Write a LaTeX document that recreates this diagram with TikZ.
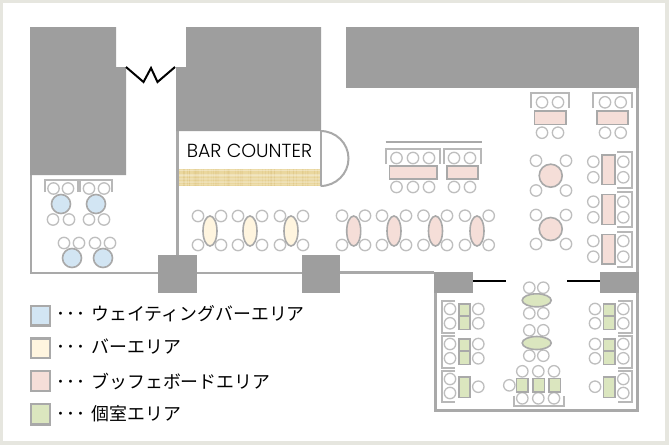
\documentclass[tikz,border=0pt]{standalone}
\usepackage{fontspec}
\newfontfamily\jpfont{Noto Sans CJK JP}
\newfontfamily\barfont{Poppins Light}
\definecolor{wallc}{HTML}{9E9E9E}
\definecolor{edgec}{HTML}{A9A9A9}
\definecolor{chairc}{HTML}{BEBEBE}
\definecolor{benchc}{HTML}{B8B8B8}
\definecolor{framec}{HTML}{E6E6DF}
\definecolor{bluec}{HTML}{D2E5F3}
\definecolor{yellowc}{HTML}{FFF5DF}
\definecolor{pinkc}{HTML}{F5DED8}
\definecolor{greenc}{HTML}{DBE6BF}
\definecolor{barc}{HTML}{EAD79E}
\definecolor{bardark}{HTML}{D9BE78}
\tikzset{
  wallblock/.style={fill=wallc,draw=none},
  wallline/.style={draw=edgec,line width=2.6pt},
  seat/.style={draw=chairc,fill=white,line width=1.3pt},
  bench/.style={draw=benchc,line width=2pt},
  tbl/.style={draw=edgec,line width=1.6pt},
  swatch/.style={draw=edgec,line width=2.6pt},
  legendtext/.style={anchor=west,inner sep=0pt,font=\jpfont\fontsize{17.9}{20}\selectfont},
}
\newcommand{\seats}[2]{\foreach \sx in {#1}{\foreach \sy in {#2}{\draw[seat] (\sx,\sy) circle[radius=5.7];}}}
\newcommand{\dotrun}{･\hspace{1.2pt}･\hspace{1.2pt}･\hspace{6pt}}
\begin{document}
\begin{tikzpicture}[x=1pt,y=-1pt]
\useasboundingbox (0,0) rectangle (669,445);
\fill[framec] (0,0) rectangle (669,445);
\fill[white] (3,3) rectangle (665,441);
% walls lines
\draw[wallline] (31,175) -- (31,273) -- (302,273);
\draw[wallline] (177.5,131) -- (177.5,255);
\draw[wallline] (340,272.5) -- (434,272.5);
\draw[wallline] (637.5,88) -- (637.5,272);
\draw[wallline] (435.5,293) -- (435.5,410.5) -- (637.5,410.5) -- (637.5,293);
% gray blocks
\fill[wallblock] (30,27) -- (116,27) -- (116,67) -- (126,67) -- (126,175) -- (30,175) -- cycle;
\fill[wallblock] (186,27) -- (321,27) -- (321,131) -- (176,131) -- (176,67) -- (186,67) -- cycle;
\fill[wallblock] (346,27) rectangle (639,88);
\fill[wallblock] (158,255) rectangle (197,293);
\fill[wallblock] (302,255) rectangle (340,293);
\fill[wallblock] (434,272) rectangle (473,293);
\fill[wallblock] (600,272) rectangle (638.5,293);
% door and entrance
\draw[black,line width=2pt] (126,67) -- (143.5,82) -- (151,68) -- (157.5,82) -- (175,67);
\draw[black,line width=2.4pt] (473,281) -- (506,281);
\draw[black,line width=2.4pt] (567,281) -- (600,281);
% bar counter
\fill[barc] (179,169) rectangle (320,186);
\pgfmathsetseed{7}
\begin{scope}
\clip (179,169) rectangle (320,186);
\foreach \i in {1,...,70}{
  \pgfmathsetmacro{\bx}{179+141*rnd}
  \pgfmathsetmacro{\bo}{0.1+0.25*rnd}
  \draw[bardark,line width=.8pt,opacity=\bo] (\bx,169) -- (\bx,186);
}
\foreach \i in {1,...,12}{
  \pgfmathsetmacro{\by}{169+17*rnd}
  \pgfmathsetmacro{\bo}{0.1+0.2*rnd}
  \draw[white,line width=.7pt,opacity=\bo] (179,\by) -- (320,\by);
}
\end{scope}
\draw[edgec,line width=2pt] (320.5,131) -- (320.5,186);
\draw[edgec,line width=2pt] (320.5,131) arc[start angle=-90,end angle=90,x radius=28,y radius=27.5];
\node[inner sep=0pt,font=\barfont\fontsize{18.9}{20}\selectfont] (barlabel) at (249.5,151) {BAR COUNTER};
% waiting area
\draw[bench] (44.5,192) -- (44.5,180) -- (78,180) -- (78,192);
\draw[bench] (80,192) -- (80,180) -- (112,180) -- (112,192);
\seats{53.5,68,89,104}{188.5}
\seats{53,69,89,104}{219.5}
\seats{64,79,95,110}{243}
\foreach \p in {(61,204),(96,204),(72,258),(103,258)}{\draw[tbl,fill=bluec] \p circle[radius=9.5];}
% bar area
\seats{198,221,238,262,280,303}{216,245}
\foreach \c in {210,250,291}{
  \draw[tbl,fill=yellowc] (\c,231) ellipse[x radius=7,y radius=15];
}
% buffet ellipses
\seats{342,365,382,406,423.5,447,465,488.7}{215.7,245}
\foreach \c in {353.7,394,435.5,477}{
  \draw[tbl,fill=pinkc] (\c,231) ellipse[x radius=7,y radius=15];
}
% buffet counter
\draw[edgec,line width=2.4pt] (385.7,141.7) -- (481.7,141.7);
\draw[bench] (386,164) -- (386,149) -- (440,149) -- (440,164);
\draw[bench] (444,164) -- (444,149) -- (481,149) -- (481,164);
\seats{396.5,413,429,454,470}{158,187}
\draw[tbl,fill=pinkc] (389.5,166) rectangle (436.7,179);
\draw[tbl,fill=pinkc] (446.7,166) rectangle (477.7,179);
% top right
\draw[bench] (531.3,108) -- (531.3,92.7) -- (569.3,92.7) -- (569.3,108);
\draw[bench] (593.3,108) -- (593.3,92.7) -- (631.7,92.7) -- (631.7,108);
\seats{542,558,605,620.7}{102.3,132.7}
\draw[tbl,fill=pinkc] (534.3,111) rectangle (565.7,124.3);
\draw[tbl,fill=pinkc] (596.7,111) rectangle (628,124.3);
% round tables
\seats{536,566}{160.7,190.5,215,244}
\draw[tbl,fill=pinkc] (550.7,175.7) circle[radius=11.5];
\draw[tbl,fill=pinkc] (550.7,229) circle[radius=11.5];
% right column
\seats{593.3,623.3}{161.7,177.3,201.7,217.3,241,256.7}
\draw[tbl,fill=pinkc] (601.7,155) rectangle (615,184.3);
\draw[tbl,fill=pinkc] (601.7,194.3) rectangle (615,224.3);
\draw[tbl,fill=pinkc] (601.7,234.3) rectangle (615,264);
\draw[bench] (617.3,151.7) -- (631.7,151.7) -- (631.7,187.7) -- (617.3,187.7);
\draw[bench] (617.3,191.7) -- (631.7,191.7) -- (631.7,227.3) -- (617.3,227.3);
\draw[bench] (617.3,231.7) -- (631.7,231.7) -- (631.7,267.3) -- (617.3,267.3);
% private rooms left
\draw[bench] (455,300.7) -- (441.7,300.7) -- (441.7,332.7) -- (455,332.7);
\draw[bench] (455,335.7) -- (441.7,335.7) -- (441.7,367.7) -- (455,367.7);
\draw[bench] (455,370.7) -- (441.7,370.7) -- (441.7,402.3) -- (455,402.3);
\seats{450}{309,323.3,344,358.3,379,393}
\seats{478.3}{309,323.3,344,358.3,386.7}
\foreach \ya/\yb/\yc in {304/316/329.3,339/351/364.3}{
  \draw[tbl,fill=greenc] (458.7,\ya) rectangle (470,\yb);
  \draw[tbl,fill=greenc] (458.7,\yb) rectangle (470,\yc);
}
\draw[tbl,fill=greenc] (458.7,376.7) rectangle (470,397.3);
% private rooms right
\draw[bench] (618.3,300.7) -- (631.7,300.7) -- (631.7,332.7) -- (618.3,332.7);
\draw[bench] (618.3,335.7) -- (631.7,335.7) -- (631.7,367.7) -- (618.3,367.7);
\draw[bench] (618.3,370.7) -- (631.7,370.7) -- (631.7,402.3) -- (618.3,402.3);
\seats{623.3}{309,323.3,344,358.3,379,393}
\seats{595}{309,323.3,344,358.3,386.7}
\foreach \ya/\yb/\yc in {304/316/329.3,339/351/364.3}{
  \draw[tbl,fill=greenc] (603.3,\ya) rectangle (615,\yb);
  \draw[tbl,fill=greenc] (603.3,\yb) rectangle (615,\yc);
}
\draw[tbl,fill=greenc] (603.3,376.7) rectangle (615,397.3);
% private rooms centre
\seats{529.3,543.3}{287.7,313.3,330.3,355.7}
\draw[tbl,fill=greenc] (536.7,300.3) ellipse[x radius=14.5,y radius=6.5];
\draw[tbl,fill=greenc] (536.7,343) ellipse[x radius=14.5,y radius=6.5];
\seats{522.3,538.3,554}{371.3,398.3}
\seats{509.3}{385.3}
\draw[tbl,fill=greenc] (516.3,378.3) rectangle (527.7,391.7);
\draw[tbl,fill=greenc] (532.7,378.3) rectangle (544.3,391.7);
\draw[tbl,fill=greenc] (549,378.3) rectangle (560.3,391.7);
\draw[bench] (513.7,395.7) -- (513.7,406.3) -- (564,406.3) -- (564,395.7);
% legend
\draw[swatch,fill=bluec] (31,306) rectangle (50,325.5);
\draw[swatch,fill=yellowc] (31,338.5) rectangle (50,358);
\draw[swatch,fill=pinkc] (31,371) rectangle (50,391);
\draw[swatch,fill=greenc] (31,404) rectangle (50,424.5);
\node[legendtext] (lega) at (56,314) {\dotrun ウェイティングバーエリア};
\node[legendtext] (legb) at (56,347) {\dotrun バーエリア};
\node[legendtext] (legc) at (56,381) {\dotrun ブッフェボードエリア};
\node[legendtext] (legd) at (56,414) {\dotrun 個室エリア};
\end{tikzpicture}
\end{document}
